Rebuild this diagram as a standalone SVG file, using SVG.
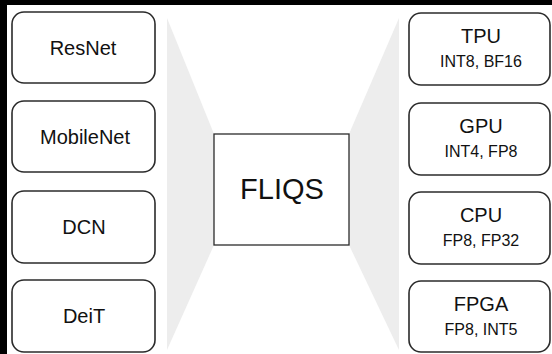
<svg xmlns="http://www.w3.org/2000/svg" width="552" height="354" viewBox="0 0 552 354">
<style>
.bg{fill:#ffffff}
.frame{fill:#000000}
.node{fill:#ffffff;stroke:#2b2b2b;stroke-width:1.6}
.core{fill:#ffffff;stroke:#2b2b2b;stroke-width:1.3}
.fan{fill:#ededed}
text{font-family:"Liberation Sans",Arial,sans-serif;fill:#111111;text-anchor:middle}
.lbl{font-size:20px}
.sub{font-size:16px}
.big{font-size:29px}
</style>
<rect class="bg" x="0" y="0" width="552" height="354"/>
<rect class="frame" x="0" y="0" width="552" height="5"/>
<rect class="frame" x="0" y="0" width="7" height="354"/>
<g id="connectors">
<polygon class="fan" points="167,18 214,134 214,245 167,350"/>
<polygon class="fan" points="399,18 349,134 349,245 399,350"/>
</g>
<g id="resnet"><rect class="node" x="12" y="12" width="143" height="71" rx="12"/><text class="lbl" x="83" y="55">ResNet</text></g>
<g id="mobilenet"><rect class="node" x="12" y="101" width="143" height="71" rx="12"/><text class="lbl" x="85" y="144">MobileNet</text></g>
<g id="dcn"><rect class="node" x="12" y="191" width="143" height="72" rx="12"/><text class="lbl" x="84" y="234">DCN</text></g>
<g id="deit"><rect class="node" x="12" y="280" width="143" height="72" rx="12"/><text class="lbl" x="84" y="323">DeiT</text></g>
<g id="fliqs"><rect class="core" x="214" y="134" width="135" height="111"/><text class="big" x="282" y="199">FLIQS</text></g>
<g id="tpu"><rect class="node" x="409" y="13" width="141" height="72" rx="12"/><text class="lbl" x="481" y="43">TPU</text><text class="sub" x="481" y="67">INT8, BF16</text></g>
<g id="gpu"><rect class="node" x="409" y="103" width="141" height="72" rx="12"/><text class="lbl" x="481" y="133">GPU</text><text class="sub" x="481" y="157">INT4, FP8</text></g>
<g id="cpu"><rect class="node" x="409" y="192" width="141" height="72" rx="12"/><text class="lbl" x="481" y="222">CPU</text><text class="sub" x="481" y="246">FP8, FP32</text></g>
<g id="fpga"><rect class="node" x="409" y="281" width="141" height="71" rx="12"/><text class="lbl" x="481" y="311">FPGA</text><text class="sub" x="481" y="335">FP8, INT5</text></g>
</svg>
